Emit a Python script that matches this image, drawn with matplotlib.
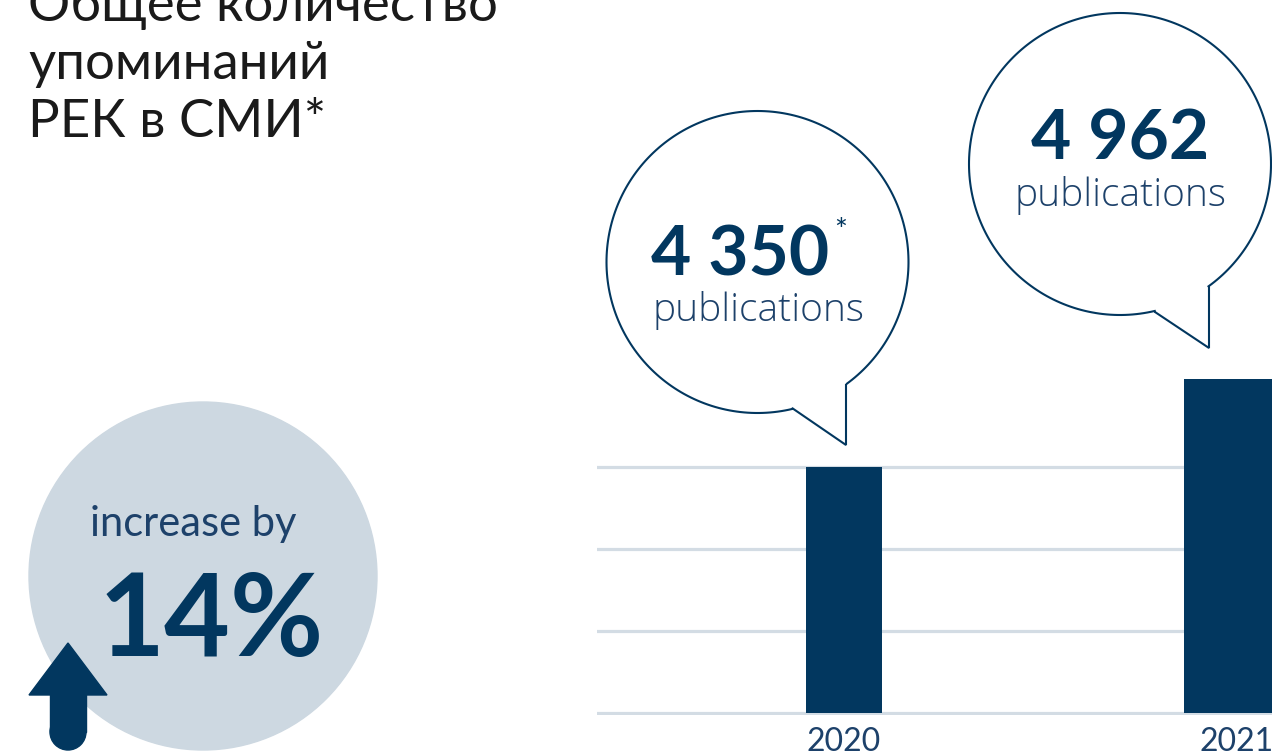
import numpy as np
import matplotlib
matplotlib.use("Agg")
import matplotlib.pyplot as plt
from matplotlib.patches import Circle, Polygon, Rectangle

# ── Data ──────────────────────────────────────────────────────────────────────
years        = ["2020", "2021"]
publications = [4350, 4962]
bar_heights  = [3.0, 4.07]          # bar heights as drawn, in gridline units
grid_levels  = [0, 1, 2, 3]
title_lines  = ["Общее количество", "упоминаний", "РЕК в СМИ*"]
increase_txt = "increase by"
increase_pct = "14%"
unit_label   = "publications"
footnote     = ["*", ""]

# ── Style ─────────────────────────────────────────────────────────────────────
NAVY  = "#02375f"
TEXT  = "#1d416a"
GRAY  = "#cdd8e1"
GRID  = "#d3dce4"
FONT  = "Lato"
WIDE  = "Open Sans"
W, H  = 1272, 756

plt.rcParams["font.family"] = [FONT, "DejaVu Sans"]

fig = plt.figure(figsize=(W / 100, H / 100), dpi=100)
fig.patch.set_facecolor("white")

# ── Bar chart ─────────────────────────────────────────────────────────────────
px_x = 393.0            # pixels per category step
px_y = 82.0             # pixels per gridline step
left_px, base_px = 597, 713
x0 = (left_px - 844) / px_x
x1 = (W - 844) / px_x
y0 = -0.03
y1 = base_px / px_y
bottom_frac = (H - (base_px - y0 * px_y)) / H

ax = fig.add_axes([left_px / W, bottom_frac, 1 - left_px / W, 1 - bottom_frac])
ax.set_xlim(x0, x1)
ax.set_ylim(y0, y1)
ax.axis("off")
for g in grid_levels:
    ax.axhline(g, color=GRID, lw=2.3, zorder=1)
xs = np.arange(len(years))
widths = [76 / px_x, 106 / px_x]
ax.bar(xs, bar_heights, width=widths, color=NAVY, zorder=2)
for x, lab in zip(xs, years):
    ax.text(x, -0.17, lab, ha="center", va="top", fontsize=23,
            color=TEXT, clip_on=False)

# ── Overlay (pixel coordinates) ───────────────────────────────────────────────
ov = fig.add_axes([0, 0, 1, 1], zorder=5)
ov.set_xlim(0, W)
ov.set_ylim(H, 0)
ov.axis("off")
ov.patch.set_alpha(0)

# title
for i, line in enumerate(title_lines):
    ov.text(28, 21 + 58 * i, line, ha="left", va="baseline", fontsize=38,
            color="#1a1a1a")

# increase circle + arrow
ov.add_patch(Circle((203, 576), 174, color=GRAY, zorder=1))
ov.text(193, 536, increase_txt, ha="center", va="baseline", fontsize=30,
        color=TEXT, zorder=3)
ov.text(211, 656, increase_pct, ha="center", va="baseline", fontsize=82,
        color=NAVY, fontweight="bold", zorder=3)
ov.add_patch(Polygon([(29, 695), (107, 695), (68, 643)], closed=True,
                     color=NAVY, zorder=4))
ov.add_patch(Rectangle((50, 694), 36, 38, color=NAVY, zorder=4))
ov.add_patch(Circle((68, 732), 18, color=NAVY, zorder=4))


def bubble(cx, cy, r, a, tip, c):
    ang_a = np.arctan2(a[1] - cy, a[0] - cx)
    ang_c = np.arctan2(c[1] - cy, c[0] - cx)
    if ang_c < ang_a:
        ang_c += 2 * np.pi
    t = np.linspace(ang_a, ang_c, 240)
    pts = list(zip(cx + r * np.cos(t), cy + r * np.sin(t)))
    pts += [c, tip, a]
    ov.add_patch(Polygon(pts, closed=True, facecolor="white",
                         edgecolor=NAVY, lw=1.5, zorder=2))


bubbles = [
    dict(cx=757.5, cy=262, r=151, a=(792, 408), tip=(846, 445), c=(846, 384)),
    dict(cx=1120, cy=164, r=151, a=(1155, 312), tip=(1209, 348), c=(1209, 287)),
]
num_pos  = [(740, 275), (1120, 159)]
unit_pos = [(759, 321), (1121, 206)]

for b, v, npos, upos, star in zip(bubbles, publications, num_pos, unit_pos, footnote):
    bubble(**b)
    num = f"{v:,}".replace(",", " ")
    ov.text(npos[0], npos[1], num, ha="center", va="baseline", fontsize=50,
            color=NAVY, fontweight="bold", zorder=3)
    if star:
        ov.text(841, 240, star, ha="center", va="baseline", fontsize=22,
                color=NAVY, zorder=3)
    ov.text(upos[0], upos[1], unit_label, ha="center", va="baseline",
            fontsize=28, color=TEXT, family=[WIDE, "DejaVu Sans"],
            fontweight="light", zorder=3)

fig.savefig("out.png", dpi=100, facecolor="white")
